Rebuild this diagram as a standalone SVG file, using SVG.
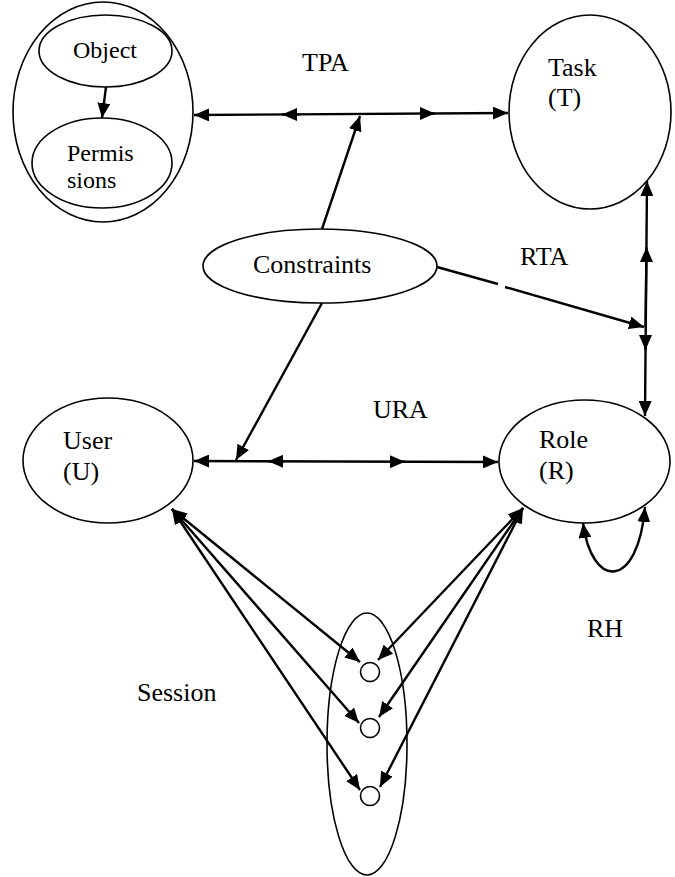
<svg xmlns="http://www.w3.org/2000/svg" width="675" height="877" viewBox="0 0 675 877">
<style>
.n{fill:none;stroke:#000;stroke-width:1.6}
.c{fill:#fff;stroke:#000;stroke-width:1.6}
.l{fill:none;stroke:#000;stroke-width:2.4}
.a{marker-end:url(#ah)}
.b{marker-start:url(#ah);marker-end:url(#ah)}
</style>
<defs>
<marker id="ah" markerUnits="userSpaceOnUse" markerWidth="15" markerHeight="13" refX="15" refY="6.5" orient="auto-start-reverse" viewBox="0 0 15 13">
<path d="M0,0 L15,6.5 L0,13 z" fill="#000"/>
</marker>
</defs>
<rect width="675" height="877" fill="#fff"/>
<g id="objperm">
<ellipse class="n" cx="103" cy="112" rx="90" ry="110"/>
</g>
<g id="object">
<ellipse class="n" cx="105.5" cy="51" rx="66.5" ry="36"/>
<text x="73" y="58" font-family="Liberation Serif" font-size="24">Object</text>
</g>
<g id="permissions">
<ellipse class="n" cx="102" cy="163" rx="70" ry="45"/>
<text x="67" y="161" font-family="Liberation Serif" font-size="24">Permis</text>
<text x="67" y="188" font-family="Liberation Serif" font-size="24">sions</text>
</g>
<g id="task">
<ellipse class="n" cx="590" cy="112" rx="81" ry="97"/>
<text x="548" y="76" font-family="Liberation Serif" font-size="26">Task</text>
<text x="548" y="106" font-family="Liberation Serif" font-size="26">(T)</text>
</g>
<g id="constraints">
<ellipse class="n" cx="320" cy="266" rx="117" ry="37"/>
<text x="253" y="273" font-family="Liberation Serif" font-size="26">Constraints</text>
</g>
<g id="user">
<ellipse class="n" cx="108" cy="460.5" rx="85" ry="62.5"/>
<text x="63" y="449" font-family="Liberation Serif" font-size="26">User</text>
<text x="63" y="480" font-family="Liberation Serif" font-size="26">(U)</text>
</g>
<g id="role">
<ellipse class="n" cx="584.5" cy="461.5" rx="85.5" ry="61.5"/>
<text x="539" y="448" font-family="Liberation Serif" font-size="26">Role</text>
<text x="539" y="479" font-family="Liberation Serif" font-size="26">(R)</text>
</g>
<g id="session">
<ellipse class="n" cx="367" cy="744" rx="40" ry="131"/>
<circle class="c" cx="370" cy="672" r="9.5"/>
<circle class="c" cx="370" cy="728" r="9.5"/>
<circle class="c" cx="370" cy="796" r="9.5"/>
</g>
<g id="labels">
<text x="302" y="71" font-family="Liberation Serif" font-size="26">TPA</text>
<text x="520" y="265" font-family="Liberation Serif" font-size="26">RTA</text>
<text x="373" y="418" font-family="Liberation Serif" font-size="26">URA</text>
<text x="587" y="637" font-family="Liberation Serif" font-size="26">RH</text>
<text x="137" y="701" font-family="Liberation Serif" font-size="26">Session</text>
</g>
<g id="connectors">
<path class="l a" d="M106 87 L102 118"/>
<path class="l b" d="M194 115 L508 113"/>
<path class="l a" d="M300 114.5 L282 114.5"/>
<path class="l a" d="M420 113.5 L435 113.5"/>
<path class="l a" d="M322 229 L360 116"/>
<path class="l b" d="M647 181 L645 416"/>
<path class="l" d="M646.5 250 L645.5 327" stroke-width="3.5"/>
<path class="l a" d="M646.5 262 L646.5 247"/>
<path class="l a" d="M645.5 335 L645.5 350"/>
<path class="l" d="M437 267 L498 284"/>
<path class="l a" d="M505 287 L644 327"/>
<path class="l a" d="M322 303 L236 460"/>
<path class="l b" d="M194 461 L498 462"/>
<path class="l a" d="M285 461.3 L268 461.3"/>
<path class="l a" d="M390 461.7 L405 461.7"/>
<path class="l b" d="M583 523 C592 590 638 590 645 507"/>
<path class="l b" d="M172 509 L360 662"/>
<path class="l b" d="M172 509 L359 723"/>
<path class="l b" d="M172 509 L360 790"/>
<path class="l b" d="M523 508 L378 660"/>
<path class="l b" d="M523 508 L379 717"/>
<path class="l b" d="M523 508 L380 787"/>
</g>
</svg>
